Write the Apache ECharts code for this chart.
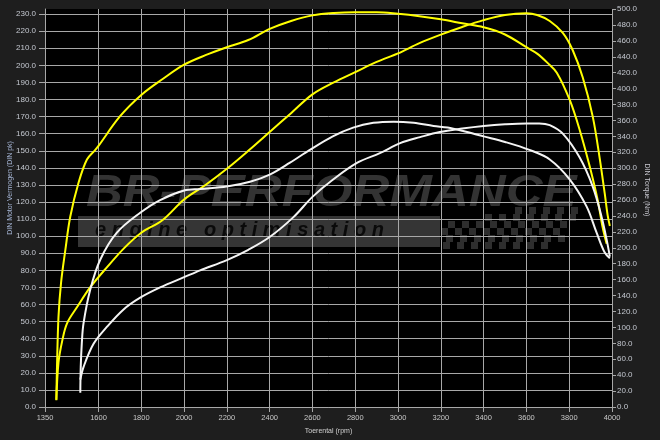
<!DOCTYPE html>
<html><head><meta charset="utf-8">
<script src="https://cdn.jsdelivr.net/npm/echarts@6/dist/echarts.min.js"></script>
<style>html,body{margin:0;padding:0;background:#1e1e1e;}#c{width:660px;height:440px;}</style>
</head><body><div id="c"></div>
<script>
// Tick labels
const xTicks = [1350,1600,1800,2000,2200,2400,2600,2800,3000,3200,3400,3600,3800,4000];
const powerTicks = [0,10,20,30,40,50,60,70,80,90,100,110,120,130,140,150,160,170,180,190,200,210,220,230];
const torqueTicks = [0,20,40,60,80,100,120,140,160,180,200,220,240,260,280,300,320,340,360,380,400,420,440,460,480,500];

// Tuned torque (Nm)
const ttRpm = [1403,1406,1413,1425,1445,1468,1507,1546,1585,1600,1700,1800,1900,2000,2100,2200,2300,2400,2500,2600,2700,2800,2900,3000,3100,3200,3300,3400,3500,3600,3650,3700,3742,3802,3849,3896,3933,3956,3975];
const ttVal = [9,50,113,156,197,239,282,311,323,328,365,392,412,430,442,452,461,475,485,492,495,496,496,494,491,487,482,477,468,452,444,432,420,386,348,302,260,226,205];

// Tuned power (pk)
const tpRpm = [1403,1413,1431,1453,1500,1561,1641,1720,1800,1900,2000,2100,2200,2300,2400,2500,2600,2700,2800,2900,3000,3100,3200,3300,3400,3500,3600,3650,3709,3770,3816,3863,3910,3942,3966,3980,3990];
const tpVal = [4,26,39,49,58.5,70,82,93,102,109.5,121.5,130,139.5,150,161,172,183,190,196,202,207,213,218,222.5,226.5,229.5,230.5,229.5,226,219,209,193,170,146,125,112,106];

// Stock torque (Nm)
const stRpm = [1515,1517,1522,1530,1561,1608,1686,1795,1888,2000,2075,2200,2308,2400,2495,2588,2695,2790,2885,2980,3073,3166,3232,3300,3400,3500,3614,3709,3802,3881,3928,3966,3990];
const stVal = [18,50,80,105,147,185,219,244,260,272,274,277,283,292,307,323,340,351,357,358.5,357,353,351,347,340,333,323,311,286,252,219,194,187];

// Stock power (pk)
const spRpm = [1515,1530,1577,1640,1716,1795,1888,2000,2075,2200,2300,2400,2510,2600,2695,2810,2915,3010,3103,3195,3300,3400,3500,3600,3660,3709,3770,3849,3910,3952,3975,3990];
const spVal = [16,23.4,37,47,57,64,70,76,80,86,92,99.5,111,123,133,143,148.6,154.5,158,161,163,164.5,165.5,166,166,165,160,146,129,111,98,88];

const pairs = (xs, ys) => xs.map((x, i) => [x, ys[i]]);

// decorative checkered flag of the watermark
const flagRects = [];
const flagRows = [[515,575],[480,575],[452,575],[440,572],[440,568],[446,560]];
flagRows.forEach((rw, r) => {
  const y = 207 + r * 7;
  for (let x = rw[0], c = 0; x < rw[1]; x += 7, c++) {
    if ((r + c) % 2 === 0) flagRects.push({type:'rect', shape:{x: x - r*2, y: y, width: 7, height: 7}, style:{fill:'#2e2e2e'}});
  }
});

const chart = echarts.init(document.getElementById('c'));
const labelFont = {fontFamily:'Liberation Sans', fontSize:8};
const lineCommon = {showSymbol:false, smooth:0.35, z:3};
chart.setOption({
  backgroundColor:'#1e1e1e',
  animation:false,
  grid:{left:45, right:48, top:9, bottom:33, show:true, backgroundColor:'#000', borderWidth:0, z:0, containLabel:false, outerBoundsMode:'none'},
  graphic:[
    {type:'rect', z:1, shape:{x:78, y:216, width:362, height:31}, style:{fill:'#353535'}},
    {type:'text', z:1, x:86, y:172, scaleX:1.16, style:{text:'BR-PERFORMANCE', fill:'#333333', font:'italic bold 44px "Liberation Sans"', verticalAlign:'top'}},
    {type:'text', z:1, x:95, y:240, style:{text:'e n g i n e   o p t i m i s a t i o n', fill:'#0a0a0a', font:'italic bold 20px "Liberation Sans"', verticalAlign:'bottom'}},
    {type:'group', z:1, children: flagRects}
  ],
  xAxis:{
    type:'value', min:1350, max:4000, z:2,
    name:'Toerental (rpm)', nameLocation:'middle', nameGap:21, nameMoveOverlap:false,
    nameTextStyle:{color:'#d0d0d0', fontFamily:'Liberation Sans', fontSize:7},
    axisLine:{show:true, lineStyle:{color:'#a8a8a8'}},
    axisTick:{show:true, length:5, customValues:xTicks, lineStyle:{color:'#a8a8a8'}},
    axisLabel:{customValues:xTicks, color:'#c8c8c8', margin:7, fontFamily:'Liberation Sans', fontSize:7.5, formatter:v => String(v)},
    splitLine:{show:true, lineStyle:{color:'#a8a8a8', width:1}}
  },
  yAxis:[
    {
      type:'value', min:0, max:233, interval:10, position:'left', z:2,
      name:'DIN Motor Vermogen (DIN pk)', nameLocation:'middle', nameGap:31, nameMoveOverlap:false,
      nameTextStyle:{color:'#a8b8d8', fontFamily:'Liberation Sans', fontSize:7, padding:[0,0,0,40]},
      axisLine:{show:true, lineStyle:{color:'#a8a8a8'}},
      axisTick:{show:true, length:6, customValues:powerTicks, lineStyle:{color:'#a8a8a8'}},
      axisLabel:Object.assign({customValues:powerTicks, color:'#c4c8d0', margin:9, formatter:v => v.toFixed(1)}, labelFont),
      splitLine:{show:true, lineStyle:{color:'#a8a8a8', width:1}}
    },
    {
      type:'value', min:0, max:500, interval:20, position:'right', z:2,
      name:'DIN Torque (Nm)', nameLocation:'middle', nameGap:31, nameRotate:-90, nameMoveOverlap:false,
      nameTextStyle:{color:'#c8c8d0', fontFamily:'Liberation Sans', fontSize:7, padding:[0,36,0,0]},
      axisLine:{show:false},
      axisTick:{show:true, length:4, customValues:torqueTicks, lineStyle:{color:'#a8a8a8'}},
      axisLabel:Object.assign({customValues:torqueTicks, color:'#c4c8d0', margin:5, formatter:v => v.toFixed(1)}, labelFont),
      splitLine:{show:false}
    }
  ],
  series:[
    Object.assign({type:'line', name:'Koppel getuned', yAxisIndex:1, data:pairs(ttRpm, ttVal), lineStyle:{color:'#ffff00', width:2}}, lineCommon),
    Object.assign({type:'line', name:'Vermogen getuned', yAxisIndex:0, data:pairs(tpRpm, tpVal), lineStyle:{color:'#ffff00', width:2}}, lineCommon),
    Object.assign({type:'line', name:'Koppel standaard', yAxisIndex:1, data:pairs(stRpm, stVal), lineStyle:{color:'#f4f4f4', width:2}}, lineCommon),
    Object.assign({type:'line', name:'Vermogen standaard', yAxisIndex:0, data:pairs(spRpm, spVal), lineStyle:{color:'#f4f4f4', width:2}}, lineCommon)
  ]
});
</script></body></html>
